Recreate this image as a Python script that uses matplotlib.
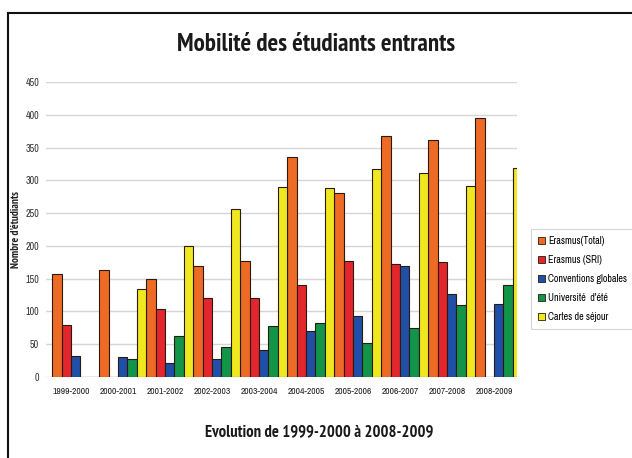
import matplotlib.pyplot as plt
import numpy as np
from matplotlib.lines import Line2D

# -----------------------------------------------------------
# DATA
# -----------------------------------------------------------

years = ["1999-2000", "2000-2001", "2001-2002", "2002-2003", "2003-2004",
         "2004-2005", "2005-2006", "2006-2007", "2007-2008", "2008-2009"]

erasmus_total = [157, 163, 150, 169, 177, 336, 280, 368, 361, 395]
erasmus_sri = [79, 0, 104, 120, 121, 140, 177, 173, 176, 0]
conventions = [32, 31, 22, 27, 41, 70, 93, 170, 126, 112]
universite_ete = [0, 27, 62, 46, 77, 82, 52, 75, 110, 140]
cartes_sejour = [0, 134, 200, 256, 290, 288, 318, 311, 292, 319]

series_names = ["Erasmus(Total)", "Erasmus (SRI)", "Conventions globales",
                "Université  d'été", "Cartes de séjour"]
colors = ["#EE6B26", "#E3262D", "#1F4FA6", "#129449", "#EFE81E"]

yticks = [0, 50, 100, 150, 200, 250, 300, 350, 400, 450]

# condensed families, with fallbacks
TITLE_FONT = ["PT Sans Narrow", "Asap Condensed", "Archivo Narrow", "DejaVu Sans"]
SMALL_FONT = ["Archivo Narrow", "Asap Condensed", "DejaVu Sans"]


# -----------------------------------------------------------
# PLOT
# -----------------------------------------------------------

def main():
    fig = plt.figure(figsize=(6.32, 4.58), dpi=100)
    ax = fig.add_axes([0.0728, 0.177, 0.746, 0.644])

    series = [erasmus_total, erasmus_sri, conventions, universite_ete, cartes_sejour]
    x = np.arange(len(years))
    width = 0.2

    for k, (vals, col) in enumerate(zip(series, colors)):
        ax.bar(x - 0.4 + width * (k + 0.5), vals, width, color=col,
               edgecolor="#2a1a10", linewidth=0.8, label=series_names[k], zorder=3)

    ax.set_xlim(-0.53, 9.5)
    ax.set_ylim(0, 450)
    ax.set_yticks(yticks)
    ax.set_xticks(x)
    ax.set_xticklabels(years, fontsize=6.8, color="#222222", family=SMALL_FONT)
    for lab in ax.get_yticklabels():
        lab.set_family(SMALL_FONT)
    ax.tick_params(axis="y", labelsize=7.2, colors="#333333", length=0, pad=5)
    ax.tick_params(axis="x", length=0, pad=7)
    ax.grid(axis="y", color="#d6d6d6", linewidth=1, zorder=0)
    for s in ax.spines.values():
        s.set_visible(False)

    ax.set_ylabel("Nombre d'étudiants", fontsize=8, fontweight="bold",
                  family=TITLE_FONT, color="#222222", labelpad=3)

    fig.text(0.5, 0.902, "Mobilité des étudiants entrants", ha="center", va="center",
             fontsize=18, fontweight="bold", family=TITLE_FONT, color="#1a1a1a")
    fig.text(0.505, 0.056, "Evolution de 1999-2000 à 2008-2009", ha="center", va="center",
             fontsize=12, fontweight="bold", family=TITLE_FONT, color="#1a1a1a")

    leg = ax.legend(loc="upper left", bbox_to_anchor=(1.018, 0.52), frameon=True,
                    prop={"family": SMALL_FONT, "size": 7.2},
                    fancybox=False, handlelength=0.7, handleheight=0.7,
                    handletextpad=0.3, labelspacing=0.9, borderpad=0.7)
    leg.get_frame().set_edgecolor("#cccccc")
    leg.get_frame().set_linewidth(0.8)
    for h in leg.legend_handles:
        h.set_linewidth(0.6)

    # border lines of the box around the chart
    fig.add_artist(Line2D([7.5 / 632, 1.0], [1 - 12.5 / 458] * 2, color="#111111",
                          linewidth=1.5, transform=fig.transFigure))
    fig.add_artist(Line2D([7.5 / 632] * 2, [0.0, 1 - 12.5 / 458], color="#111111",
                          linewidth=1.5, transform=fig.transFigure))

    fig.savefig("out.png", dpi=100)


if __name__ == "__main__":
    main()
